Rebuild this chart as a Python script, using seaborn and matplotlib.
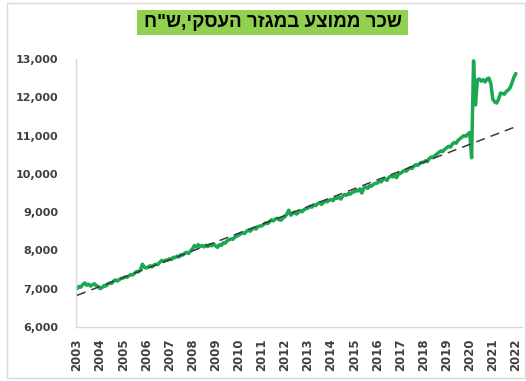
import numpy as np
import pandas as pd
import matplotlib
matplotlib.use("Agg")
import matplotlib.pyplot as plt
import matplotlib.ticker as mticker
from matplotlib.patches import Rectangle
import seaborn as sns

# Average monthly wage in the business sector (NIS), January of each year onward
w2003 = [7000, 7060, 7040, 7110, 7150, 7090, 7120, 7070, 7100, 7130, 7080, 7060]
w2004 = [7000, 7030, 7080, 7070, 7120, 7150, 7140, 7200, 7230, 7200, 7240, 7270]
w2005 = [7280, 7310, 7300, 7340, 7370, 7360, 7410, 7450, 7440, 7500, 7640, 7560]
w2006 = [7540, 7570, 7600, 7570, 7620, 7640, 7630, 7690, 7740, 7710, 7750, 7740]
w2007 = [7780, 7760, 7820, 7810, 7850, 7830, 7890, 7880, 7930, 7950, 7920, 7990]
w2008 = [8040, 8130, 8090, 8150, 8100, 8130, 8090, 8140, 8100, 8150, 8120, 8170]
w2009 = [8120, 8080, 8150, 8130, 8200, 8190, 8250, 8280, 8300, 8290, 8350, 8370]
w2010 = [8400, 8430, 8460, 8440, 8500, 8530, 8500, 8560, 8580, 8560, 8620, 8640]
w2011 = [8640, 8680, 8720, 8700, 8750, 8800, 8770, 8820, 8840, 8800, 8790, 8850]
w2012 = [8880, 8950, 9050, 8920, 8960, 9000, 8950, 8990, 9040, 9010, 9070, 9090]
w2013 = [9110, 9150, 9130, 9190, 9170, 9220, 9250, 9200, 9250, 9290, 9270, 9310]
w2014 = [9330, 9300, 9370, 9360, 9400, 9340, 9420, 9460, 9440, 9490, 9470, 9520]
w2015 = [9530, 9570, 9550, 9610, 9500, 9630, 9660, 9620, 9690, 9680, 9730, 9750]
w2016 = [9760, 9810, 9790, 9850, 9870, 9830, 9910, 9940, 9920, 9960, 9900, 10000]
w2017 = [10010, 10050, 10090, 10070, 10120, 10160, 10140, 10200, 10240, 10220, 10270, 10300]
w2018 = [10300, 10340, 10320, 10400, 10440, 10420, 10480, 10520, 10560, 10600, 10580, 10640]
w2019 = [10680, 10720, 10700, 10780, 10820, 10800, 10880, 10920, 10960, 11000, 10980, 11040]
w2020 = [11080, 10420, 12950, 11800, 12450, 12480, 12420, 12460, 12400, 12480, 12500, 12350]
w2021 = [11950, 11880, 11850, 11950, 12110, 12100, 12080, 12150, 12190, 12250, 12380, 12530]
w2022 = [12620]

year_labels = [str(y) for y in range(2003, 2023)]
y_ticks = [6000, 7000, 8000, 9000, 10000, 11000, 12000, 13000]
title_he = 'שכר ממוצע במגזר העסקי,ש"ח'

wages = np.array(w2003 + w2004 + w2005 + w2006 + w2007 + w2008 + w2009 + w2010
                 + w2011 + w2012 + w2013 + w2014 + w2015 + w2016 + w2017 + w2018
                 + w2019 + w2020 + w2021 + w2022, dtype=float)
t = 2003 + np.arange(len(wages)) / 12.0
df = pd.DataFrame({"t": t, "wage": wages})

# linear trend fitted on the pre-pandemic months, drawn across the full span
pre = df[df["t"] < 2020.05]
slope, intercept = np.polyfit(pre["t"], pre["wage"], 1)
trend = pd.DataFrame({"t": df["t"], "wage": slope * df["t"] + intercept})

sns.set_theme(style="white")
plt.rcParams["font.family"] = ["DejaVu Sans"]

W, H = 526, 381
fig = plt.figure(figsize=(W / 100, H / 100), dpi=100)
fig.patch.set_facecolor("white")

# chart-area frame
fig.patches.append(Rectangle((7 / W, 3 / H), 518 / W, 375 / H, transform=fig.transFigure,
                             facecolor="none", edgecolor="#d9d9d9", linewidth=1.0))

ax = fig.add_axes([76 / W, 1 - 327 / H, (522 - 76) / W, (327 - 59) / H])

sns.lineplot(data=df, x="t", y="wage", ax=ax, color="#1aa852", linewidth=2.5, zorder=2)
sns.lineplot(data=trend, x="t", y="wage", ax=ax, color="#3a3a3a", linewidth=1.1,
             linestyle=(0, (6, 4)), zorder=3)

ax.set_xlim(2003 - 1 / 23.1, 2003 + (522 - 77) / 23.1)
ax.set_ylim(6000, 13000)
ax.set_xticks(range(2003, 2023))
ax.set_xticklabels(year_labels, rotation=90, fontsize=8.5, fontweight="bold", color="#404040")
ax.set_yticks(y_ticks)
ax.yaxis.set_major_formatter(mticker.StrMethodFormatter("{x:,.0f}"))
for lab in ax.get_yticklabels():
    lab.set_fontsize(8)
    lab.set_fontweight("bold")
    lab.set_color("#404040")
ax.tick_params(axis="both", length=0)
ax.tick_params(axis="y", pad=13)
ax.tick_params(axis="x", pad=8)
ax.set_xlabel("")
ax.set_ylabel("")
ax.grid(False)
for side in ("top", "right"):
    ax.spines[side].set_visible(False)
for side in ("left", "bottom"):
    ax.spines[side].set_color("#d9d9d9")
    ax.spines[side].set_linewidth(1.0)

# title on a green band; matplotlib lays glyphs left to right, so the Hebrew is reversed for display
fig.patches.append(Rectangle((137 / W, 1 - 35 / H), 271 / W, 25 / H, transform=fig.transFigure,
                             facecolor="#92D050", edgecolor="none"))
fig.text(272.5 / W, 1 - 22.5 / H, title_he[::-1], ha="center", va="center",
         fontsize=13.5, fontweight="bold", color="black",
         family=["Liberation Sans", "DejaVu Sans"])

fig.savefig("out.png", dpi=100)
